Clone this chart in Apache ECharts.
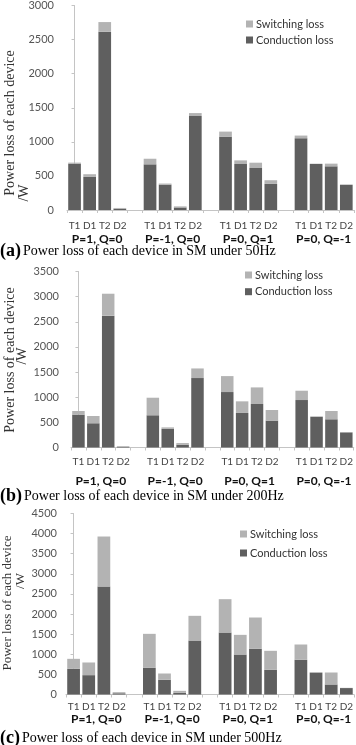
<!DOCTYPE html>
<html>
<head>
<meta charset="utf-8">
<script src="https://cdn.jsdelivr.net/npm/echarts@6/dist/echarts.min.js"></script>
<style>
  html, body { margin: 0; padding: 0; background: #fff; }
  #chart { width: 356px; height: 745px; }
</style>
</head>
<body>
<div id="chart"></div>
<script>
// device order inside each operating point
const devices = ['T1', 'D1', 'T2', 'D2'];
const groups = ['P=1, Q=0', 'P=-1, Q=0', 'P=0, Q=1', 'P=0, Q=-1'];
const seriesNames = ['Conduction loss', 'Switching loss'];

// 50Hz, W (4 groups x 4 devices)
const cond50 = [680, 485, 2615, 18,   670, 372, 37, 1379,   1073, 675, 616, 383,   1053, 675, 641, 370];
const sw50   = [15, 40, 142, 12,      82, 16, 16, 43,       77, 53, 78, 54,        39, 5, 39, 4];
// 200Hz
const cond200 = [654, 482, 2622, 13,  641, 370, 55, 1380,   1103, 687, 865, 535,   944, 610, 561, 300];
const sw200   = [72, 145, 436, 15,    349, 30, 33, 192,     317, 231, 330, 211,    185, 10, 165, 5];
// 500Hz
const cond500 = [638, 481, 2685, 30,  663, 365, 41, 1342,   1541, 994, 1135, 613,  862, 545, 249, 160];
const sw500   = [249, 315, 1243, 28,  845, 157, 50, 614,    829, 489, 779, 473,    381, 5, 298, 6];

const yMax = [3000, 3500, 4500];
const tags = ['(a)', '(b)', '(c)'];
const titles = [
  'Power loss of each device in SM under 50Hz',
  'Power loss of each device in SM under 200Hz',
  'Power loss of each device in SM under 500Hz'
];

// one empty category between operating points
const categories = [];
groups.forEach((g, gi) => {
  devices.forEach(d => categories.push(d));
  if (gi < groups.length - 1) categories.push('');
});
function spread(vals) {
  const out = [];
  groups.forEach((g, gi) => {
    for (let k = 0; k < devices.length; k++) out.push(vals[gi * devices.length + k]);
    if (gi < groups.length - 1) out.push('-');
  });
  return out;
}
// group label positions on the category index scale
const groupCenters = groups.map((g, gi) => gi * (devices.length + 1) + (devices.length - 1) / 2);

const DARK = '#5f5f5f', LIGHT = '#b3b3b3', AXIS = '#c4c4c4';
const panels = [
  { cond: cond50, sw: sw50, grid: { left: 67, top: 4, width: 287, height: 206 },
    yMargin: 13, catMargin: 11, grpMargin: 23,
    legend: { left: 246, top: 18, gap: 4 },
    nameA: [10, 123], nameB: [24, 193], nameSize: 14, titleY: 251 },
  { cond: cond200, sw: sw200, grid: { left: 71, top: 271.5, width: 283, height: 176 },
    yMargin: 12, catMargin: 9, grpMargin: 28,
    legend: { left: 245, top: 269, gap: 4.7 },
    nameA: [10, 360], nameB: [22, 356], nameSize: 14, titleY: 496 },
  { cond: cond500, sw: sw500, grid: { left: 66, top: 513.5, width: 290, height: 181 },
    yMargin: 9, catMargin: 7, grpMargin: 19,
    legend: { left: 240, top: 528, gap: 7 },
    nameA: [8, 603], nameB: [21, 581], nameSize: 13, titleY: 738 }
];

const grid = [], xAxis = [], yAxis = [], series = [], legend = [], graphic = [];
panels.forEach((p, i) => {
  grid.push(p.grid);
  xAxis.push({
    type: 'category', gridIndex: i, data: categories,
    axisLine: { lineStyle: { color: AXIS, width: 1 } },
    axisTick: { show: true, interval: 0, length: 3, lineStyle: { color: AXIS } },
    axisLabel: { interval: 0, fontFamily: 'Lato', fontSize: 10, color: '#444', margin: p.catMargin }
  });
  xAxis.push({
    type: 'value', gridIndex: i, position: 'bottom', min: -0.5, max: categories.length - 0.5,
    axisLine: { show: false }, axisTick: { show: false }, splitLine: { show: false },
    axisLabel: {
      customValues: groupCenters, margin: p.grpMargin,
      fontFamily: 'Lato', fontWeight: 'bold', fontSize: 12, color: '#111',
      formatter: v => groups[groupCenters.indexOf(v)] || ''
    }
  });
  yAxis.push({
    type: 'value', gridIndex: i, min: 0, max: yMax[i], interval: 500,
    axisLine: { show: true, lineStyle: { color: AXIS } },
    axisTick: { show: true, length: 3, lineStyle: { color: AXIS } },
    splitLine: { show: false },
    axisLabel: { fontFamily: 'Lato', fontSize: 11, color: '#555', margin: p.yMargin,
      formatter: v => String(v) }
  });
  series.push({
    name: seriesNames[0], type: 'bar', stack: 's' + i, xAxisIndex: i * 2, yAxisIndex: i,
    data: spread(p.cond), barCategoryGap: '16%',
    itemStyle: { color: DARK }, emphasis: { disabled: true }
  });
  series.push({
    name: seriesNames[1], type: 'bar', stack: 's' + i, xAxisIndex: i * 2, yAxisIndex: i,
    data: spread(p.sw), barCategoryGap: '16%',
    itemStyle: { color: LIGHT }, emphasis: { disabled: true }
  });
  legend.push({
    orient: 'vertical', left: p.legend.left, top: p.legend.top, padding: 0,
    itemGap: p.legend.gap, itemWidth: 7, itemHeight: 7, icon: 'rect',
    data: ['Switching loss', 'Conduction loss'],
    textStyle: { fontFamily: 'Lato', fontSize: 11, lineHeight: 12, color: '#333', padding: [0, 0, 0, -2] },
    selectedMode: false
  });
  graphic.push({
    type: 'text', x: p.nameA[0], y: p.nameA[1], rotation: Math.PI / 2,
    style: { text: 'Power loss of each device', font: p.nameSize + 'px "Liberation Serif"',
      fill: '#333', align: 'center', verticalAlign: 'middle' }
  });
  graphic.push({
    type: 'text', x: p.nameB[0], y: p.nameB[1], rotation: Math.PI / 2,
    style: { text: '/W', font: p.nameSize + 'px "Liberation Serif"',
      fill: '#333', align: 'center', verticalAlign: 'middle' }
  });
  graphic.push({
    type: 'text', x: 0, y: p.titleY,
    style: {
      text: '{tag|' + tags[i] + '}{t|' + titles[i] + '}',
      verticalAlign: 'middle', align: 'left',
      rich: {
        tag: { fontFamily: 'Liberation Serif', fontSize: 18, fill: '#000', fontWeight: 'bold' },
        t: { fontFamily: 'Liberation Serif', fontSize: 14, fill: '#000', padding: [0, 0, 0, 2] }
      }
    }
  });
});

const chart = echarts.init(document.getElementById('chart'), null, { renderer: 'canvas' });
chart.setOption({
  animation: false,
  grid, xAxis, yAxis, series, legend, graphic
});
</script>
</body>
</html>
